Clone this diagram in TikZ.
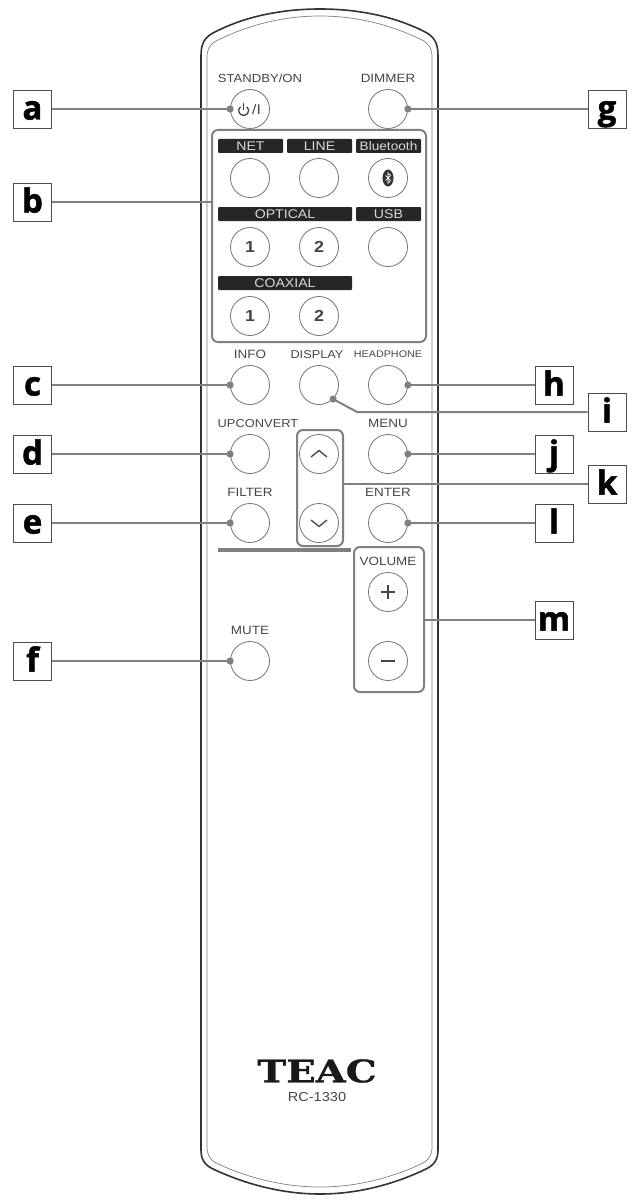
\documentclass[tikz,border=0pt]{standalone}
\usepackage{fontspec}
\setmainfont{Liberation Sans}[FakeStretch=1.12]
\newfontfamily\tagfont{Open Sans}[BoldFeatures={FakeBold=1.5}]
\newfontfamily\logofont{DejaVu Serif}[FakeStretch=1.25,BoldFeatures={FakeBold=1}]
\usepackage{tikz}
\usetikzlibrary{arrows.meta}

\definecolor{leadgray}{gray}{0.5}
\definecolor{inkgray}{gray}{0.27}

\begin{document}
\begin{tikzpicture}[x=1pt,y=-1pt,node distance=69pt,
	btn/.style={circle,draw=black!55,line width=.8pt,minimum size=39pt,inner sep=0pt,font=\bfseries\fontsize{16}{16}\selectfont,text=inkgray},
	btntext/.style={node distance=30.5pt,above of=#1,inner sep=0pt,text=inkgray,font=\fontsize{12}{12}\selectfont},
	strip/.style={fill=black!85,text=black!15,inner sep=0pt,minimum height=14pt,minimum width=#1,rounded corners=1pt,font=\fontsize{12.6}{13}\selectfont},
	tag/.style={draw=black!70,line width=.8pt,minimum size=38pt,inner sep=0pt,text height=24pt,text depth=3pt,font=\tagfont\bfseries\fontsize{33}{33}\selectfont},
	group/.style={draw=leadgray,line width=2pt,rounded corners=6pt,inner sep=0pt},
	symbol/.style={inkgray,line width=1.3pt},
	leader/.style={color=leadgray,line width=2pt,-{Circle[length=7pt]},shorten >=-3.5pt},
	bare/.style={-,shorten >=0pt}]

	\useasboundingbox (0,0) rectangle (632,1201);

	% case
	\draw[line width=1.6pt,black!80] (201,56) .. controls (201,44) and (204,38) .. (213,33)
		.. controls (245,16) and (283,9) .. (320,9) .. controls (357,9) and (395,16) .. (427,33)
		.. controls (435,38) and (438,44) .. (438,56) -- (438,1150)
		.. controls (438,1160) and (434,1165) .. (426,1169) .. controls (395,1184) and (358,1194) .. (320,1194)
		.. controls (282,1194) and (245,1184) .. (213,1169) .. controls (205,1165) and (201,1160) .. (201,1150) -- cycle;
	\draw[line width=.7pt,black!50] (207,58) .. controls (207,50) and (209,45) .. (216,41)
		.. controls (250,24) and (285,16) .. (320,16) .. controls (355,16) and (390,24) .. (424,41)
		.. controls (430,45) and (432,50) .. (432,58) -- (432,1146)
		.. controls (432,1154) and (430,1159) .. (423,1163) .. controls (392,1178) and (356,1187) .. (320,1187)
		.. controls (284,1187) and (248,1178) .. (216,1163) .. controls (209,1159) and (207,1154) .. (207,1146) -- cycle;

	% buttons
	\node[btn] (standby) at (250,109) {\hspace{13pt}\mdseries\fontsize{14}{14}\selectfont /I};
	\node[btn] (dimmer) [right of=standby,node distance=138pt] {};
	\node[btn] (net) [below of=standby] {};
	\node[btn] (line) [right of=net] {};
	\node[btn] (bt) [right of=line] {};
	\node[btn] (opt1) [below of=net] {1};
	\node[btn] (opt2) [right of=opt1] {2};
	\node[btn] (usb) [right of=opt2] {};
	\node[btn] (coax1) [below of=opt1] {1};
	\node[btn] (coax2) [right of=coax1] {2};
	\node[btn] (info) [below of=coax1] {};
	\node[btn] (display) [right of=info] {};
	\node[btn] (headphone) [right of=display] {};
	\node[btn] (upconvert) [below of=info] {};
	\node[btn] (up) [right of=upconvert] {};
	\node[btn] (menu) [right of=up] {};
	\node[btn] (filter) [below of=upconvert] {};
	\node[btn] (down) [right of=filter] {};
	\node[btn] (enter) [right of=down] {};
	\node[btn] (plus) [below of=enter] {};
	\node[btn] (minus) [below of=plus] {};
	\node[btn] (mute) [left of=minus,node distance=138pt] {};

	% button captions
	\node[btntext=standby,xshift=10pt,font=\fontsize{11.7}{12}\selectfont] (standbytext) {STANDBY/ON};
	\node[btntext=dimmer] (dimmertext) {DIMMER};
	\node[btntext=info] (infotext) {INFO};
	\node[btntext=display,xshift=-2pt,font=\fontsize{11.4}{12}\selectfont] (displaytext) {DISPLAY};
	\node[btntext=headphone,font=\fontsize{9.6}{10}\selectfont] (headphonetext) {HEADPHONE};
	\node[btntext=upconvert,xshift=8pt,font=\fontsize{11.5}{12}\selectfont] (upconverttext) {UPCONVERT};
	\node[btntext=menu] (menutext) {MENU};
	\node[btntext=filter] (filtertext) {FILTER};
	\node[btntext=enter] (entertext) {ENTER};
	\node[btntext=plus] (volumetext) {VOLUME};
	\node[btntext=mute] (mutetext) {MUTE};

	% source strips
	\node[strip=65pt] (netstrip) at (250.5,146) {NET};
	\node[strip=65pt] (linestrip) at (319.5,146) {LINE};
	\node[strip=65pt,font=\fontsize{12.2}{13}\selectfont] (btstrip) at (388.5,146) {Bluetooth};
	\node[strip=134pt] (optstrip) at (285,214) {OPTICAL};
	\node[strip=65pt] (usbstrip) at (388.5,214) {USB};
	\node[strip=134pt] (coaxstrip) at (285,283) {COAXIAL};

	% button symbols
	\draw[symbol] ([shift={(-3.1,-2.3)}]standby.center) arc (50:-230:5pt);
	\draw[symbol] ([shift={(-6.3,-5.5)}]standby.center) -- ++(0,7);
	\fill[black!80] (bt.center) ellipse (5.5pt and 8.5pt);
	\draw[white,line width=.7pt] ([shift={(-2.5,-2.5)}]bt.center) -- ++(5,5) -- ++(-2.5,2.5) -- ++(0,-10) -- ++(2.5,2.5) -- ++(-5,5);
	\draw[symbol] ([shift={(-8,3)}]up.center) -- ++(8,-6.5) -- ++(8,6.5);
	\draw[symbol] ([shift={(-8,-3)}]down.center) -- ++(8,6.5) -- ++(8,-6.5);
	\draw[symbol] ([xshift=-7pt]plus.center) -- ++(14,0);
	\draw[symbol] ([yshift=-7pt]plus.center) -- ++(0,-14);
	\draw[symbol] ([xshift=-7pt]minus.center) -- ++(14,0);

	% groups
	\draw[line width=4pt,leadgray] (218,550) -- (351,550);
	\node[group,minimum width=214pt,minimum height=212pt] (inputs) at (319,236) {};
	\node[group,minimum width=46pt,minimum height=116pt] (updown) at (320,488) {};
	\node[group,minimum width=70pt,minimum height=145pt] (volume) at (389,619.5) {};

	% lettered tags
	\node[tag] (a) at (32.5,109) {a};
	\node[tag] (b) at (32.5,202) {b};
	\node[tag] (c) at (32.5,385) {c};
	\node[tag] (d) at (32.5,454) {d};
	\node[tag] (e) at (32.5,523) {e};
	\node[tag] (f) at (32.5,661) {f};
	\node[tag] (g) at (607,109) {g};
	\node[tag] (h) at (554,385) {h};
	\node[tag] (i) at (607,412) {i};
	\node[tag] (j) at (554,454) {j};
	\node[tag] (k) at (607,484) {k};
	\node[tag] (l) at (554,523) {l};
	\node[tag] (m) at (554,620) {m};
	\coordinate (elbow) at (357,412);

	\path[leader]
		(a) edge (standby.west)
		(b) edge[bare] (b -| inputs.west)
		(c) edge (info.west)
		(d) edge (upconvert.west)
		(e) edge (filter.west)
		(f) edge (mute.west)
		(g) edge (dimmer.east)
		(h) edge (headphone.east)
		(j) edge (menu.east)
		(k) edge[bare] (k -| updown.east)
		(l) edge (enter.east)
		(m) edge[bare] (m -| volume.east);
	\draw[leader] (i) -- (elbow) -- (display.-45);

	% logo
	\node[inner sep=0pt,font=\logofont\bfseries\fontsize{31}{31}\selectfont,text=black!90] (logo) at (317,1071) {TEAC};
	\node[inner sep=0pt,below of=logo,node distance=26pt,font=\fontsize{13}{13}\selectfont,text=inkgray] (model) {RC-1330};
\end{tikzpicture}
\end{document}
